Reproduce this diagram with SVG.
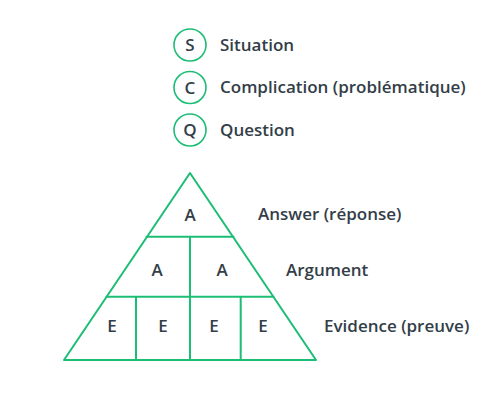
<svg xmlns="http://www.w3.org/2000/svg" width="477" height="400" viewBox="0 0 477 400">
<style>
.t{font-family:"Open Sans","Liberation Sans",sans-serif;font-weight:600;font-size:17px;fill:#333e48}
.c{fill:#fff;stroke:#1cbd74;stroke-width:1.6}
.ln{fill:none;stroke:#1cbd74;stroke-width:2;stroke-linejoin:round;stroke-linecap:round}
.m{text-anchor:middle}
</style>
<rect width="477" height="400" fill="#fff"/>
<g id="legend-s"><circle class="c" cx="190" cy="45" r="16"/><text class="t m" x="190" y="51">S</text><text class="t" x="220" y="50.5">Situation</text></g>
<g id="legend-c"><circle class="c" cx="190" cy="87.5" r="16"/><text class="t m" x="190" y="93.5">C</text><text class="t" x="220" y="93">Complication (problématique)</text></g>
<g id="legend-q"><circle class="c" cx="190" cy="130" r="16"/><text class="t m" x="190" y="136">Q</text><text class="t" x="220" y="135.5">Question</text></g>
<g id="connectors">
<path class="ln" d="M190 173 L316 360 L64 360 Z"/>
<path class="ln" d="M146.5 236.7 H233.5 M106.5 296.7 H273.5 M190 236.7 V360 M136 296.7 V360 M240.7 296.7 V360"/>
</g>
<g id="answer"><text class="t m" x="190" y="221">A</text><text class="t" x="258" y="220">Answer (réponse)</text></g>
<g id="arguments"><text class="t m" x="157" y="276">A</text><text class="t m" x="222" y="276">A</text><text class="t" x="286" y="276">Argument</text></g>
<g id="evidence"><text class="t m" x="112" y="332">E</text><text class="t m" x="163" y="332">E</text><text class="t m" x="214" y="332">E</text><text class="t m" x="263" y="332">E</text><text class="t" x="324" y="332">Evidence (preuve)</text></g>
</svg>
